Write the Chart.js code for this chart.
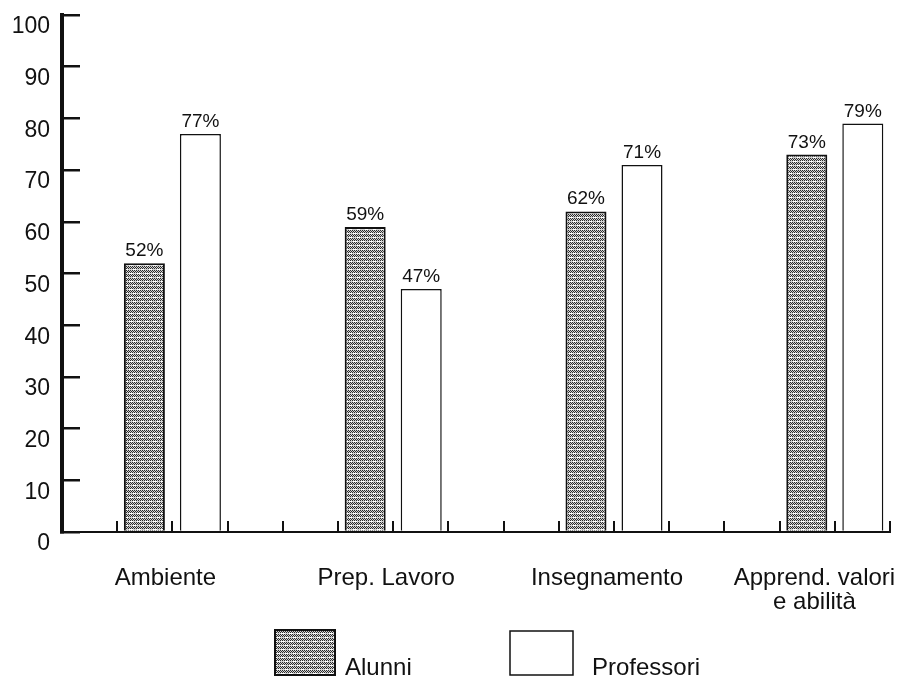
<!DOCTYPE html>
<html>
<head>
<meta charset="utf-8">
<script src="https://cdn.jsdelivr.net/npm/chart.js@4.4.1/dist/chart.umd.min.js"></script>
<style>
  html, body { margin: 0; padding: 0; background: #fff; }
</style>
</head>
<body>
<canvas id="barChart" width="899" height="677"></canvas>
<script>
// 데이터
const categories = ['Ambiente', 'Prep. Lavoro', 'Insegnamento', ['Apprend. valori', 'e abilità']];
const seriesNames = ['Alunni', 'Professori'];
const alunni = [52, 59, 62, 73];
const professori = [77, 47, 71, 79];
const yMin = 0, yMax = 100, yStep = 10;

const FONT = '"Liberation Sans", Arial, Helvetica, sans-serif';
const INK = '#111';

// 회색 망점 패턴 (Alunni)
function makeDotPattern() {
  const c = document.createElement('canvas');
  c.width = 8; c.height = 8;
  const g = c.getContext('2d');
  g.fillStyle = '#d2d2d2';
  g.fillRect(0, 0, 8, 8);
  g.fillStyle = '#2a2a2a';
  for (let y = 0; y < 8; y++) {
    for (let x = 0; x < 8; x++) {
      if ((x + y) % 2 === 0 && y % 4 !== 1) g.fillRect(x, y, 1, 1);
    }
  }
  g.fillStyle = '#ffffff';
  g.fillRect(1, 1, 4, 1);
  g.fillRect(5, 5, 3, 1);
  return document.createElement('canvas').getContext('2d').createPattern(c, 'repeat');
}
const dotPattern = makeDotPattern();

// 마지막 라벨은 캔버스 밖으로 나가지 않게 왼쪽으로 당김
function xTickLabel(value) {
  if (!Number.isInteger(value) || categories[value] === undefined) return '';
  const label = categories[value];
  if (value === categories.length - 1) {
    return [].concat(label).map(s => s + '    ');
  }
  return label;
}

// 막대 위 퍼센트 값
const barValueLabels = {
  id: 'barValueLabels',
  afterDatasetsDraw(chart) {
    const ctx = chart.ctx;
    ctx.save();
    ctx.font = '19px ' + FONT;
    ctx.fillStyle = INK;
    ctx.textAlign = 'center';
    ctx.textBaseline = 'alphabetic';
    chart.data.datasets.forEach((ds, i) => {
      chart.getDatasetMeta(i).data.forEach((bar, j) => {
        ctx.fillText(ds.data[j].y + '%', bar.x, bar.y - 7);
      });
    });
    ctx.restore();
  }
};

// 하단 범례
const bottomLegend = {
  id: 'bottomLegend',
  afterDraw(chart) {
    const ctx = chart.ctx;
    const slots = [
      { x: 275, y: 630, w: 60, h: 45, textX: 345 },
      { x: 510, y: 631, w: 63, h: 44, textX: 592 }
    ];
    ctx.save();
    ctx.font = '24px ' + FONT;
    ctx.textBaseline = 'alphabetic';
    ctx.textAlign = 'left';
    chart.data.datasets.forEach((ds, i) => {
      const s = slots[i];
      ctx.fillStyle = ds.backgroundColor;
      ctx.fillRect(s.x, s.y, s.w, s.h);
      ctx.lineWidth = ds.borderWidth;
      ctx.strokeStyle = ds.borderColor;
      ctx.strokeRect(s.x, s.y, s.w, s.h);
      ctx.fillStyle = INK;
      ctx.fillText(ds.label, s.textX, 675);
    });
    ctx.restore();
  }
};

const ctx = document.getElementById('barChart').getContext('2d');
const chart = new Chart(ctx, {
  type: 'bar',
  data: {
    datasets: [
      {
        label: seriesNames[0],
        data: alunni.map((v, i) => ({ x: i, y: v })),
        backgroundColor: dotPattern,
        borderColor: INK,
        borderWidth: 2
      },
      {
        label: seriesNames[1],
        data: professori.map((v, i) => ({ x: i, y: v })),
        backgroundColor: '#ffffff',
        borderColor: INK,
        borderWidth: 1.5
      }
    ]
  },
  options: {
    responsive: false,
    animation: false,
    categoryPercentage: 2.03,
    barPercentage: 0.732,
    layout: { padding: { left: 0, right: 9, top: 15, bottom: 55 } },
    plugins: {
      legend: { display: false },
      tooltip: { enabled: false }
    },
    scales: {
      x: {
        type: 'linear',
        offset: false,
        min: -0.5,
        max: 3.25,
        afterFit(scale) {
          scale.height = 90;
          scale.paddingLeft = 0;
          scale.paddingRight = 0;
        },
        border: { display: true, color: INK, width: 2 },
        grid: { offset: false, drawOnChartArea: false, color: INK, lineWidth: 2, tickLength: -11 },
        ticks: {
          stepSize: 0.25,
          autoSkip: false,
          maxRotation: 0,
          padding: 45,
          labelOffset: -7,
          color: INK,
          font: { family: FONT, size: 24, lineHeight: 1.0 },
          callback: xTickLabel
        }
      },
      y: {
        min: yMin,
        max: yMax,
        afterFit(scale) {
          scale.width = 62;
          scale.paddingTop = 0;
          scale.paddingBottom = 0;
        },
        border: { display: true, color: INK, width: 4 },
        grid: { drawOnChartArea: false, color: INK, lineWidth: 2.5, tickLength: -18 },
        ticks: {
          stepSize: yStep,
          padding: 30,
          labelOffset: 12,
          color: INK,
          font: { family: FONT, size: 23 }
        }
      }
    }
  },
  plugins: [barValueLabels, bottomLegend]
});
</script>
</body>
</html>
